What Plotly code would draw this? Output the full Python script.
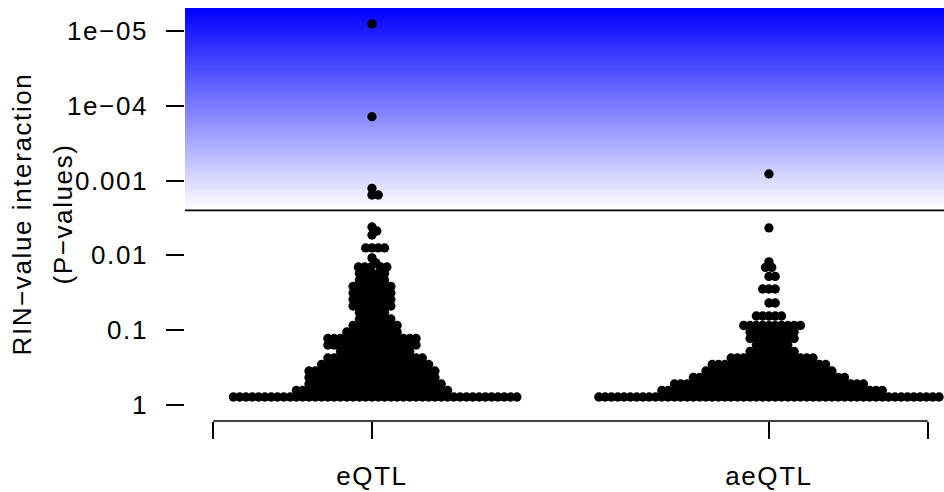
import numpy as np
import plotly.graph_objects as go

# ---------------- data ----------------
GROUPS = ["eQTL", "aeQTL"]
GROUP_POS = [1, 2]

# eQTL: p-value levels and number of points found at each level
EQTL_P = [8.06e-6, 1.40e-4, 1.27e-3, 1.56e-3, 4.17e-3, 4.72e-3, 5.34e-3, 7.96e-3, 1.08e-2, 1.26e-2,
          0.01429, 0.01746, 0.0213, 0.0260, 0.0318, 0.0389, 0.0475, 0.0580, 0.0709, 0.0866,
          0.1057, 0.1291, 0.1577, 0.1926, 0.2353, 0.2874, 0.3511, 0.4289, 0.5239, 0.6401, 0.7817]
EQTL_N = [1, 1, 1, 2, 1, 1, 1, 4, 1, 1,
          5, 5, 5, 7, 7, 7, 7, 5, 6, 8,
          9, 15, 15, 12, 16, 18, 21, 21, 22, 25, 46]

# aeQTL: p-value levels and number of points at each level
AEQTL_P = [8.16e-4, 4.30e-3, 1.22e-2, 1.451e-2, 1.914e-2, 2.813e-2, 4.329e-2, 6.46e-2, 0.0866,
           0.1057, 0.1291, 0.1577, 0.1926, 0.2353, 0.2874, 0.3511, 0.4289, 0.5239, 0.6401, 0.7817]
AEQTL_N = [1, 1, 1, 2, 2, 3, 2, 5, 10,
           8, 8, 6, 8, 14, 19, 21, 25, 31, 36, 55]

THRESHOLD = 0.0025
Y_TICKS = [1e-5, 1e-4, 1e-3, 1e-2, 0.1, 1]
Y_TICK_TEXT = ["1e\u221205", "1e\u221204", "0.001", "0.01", "0.1", "1"]
X_TICKS = [0.6, 1, 2, 2.4]
X_TICK_TEXT = ["", "eQTL", "aeQTL", ""]
Y_TITLE_1 = "RIN\u2212value interaction"
Y_TITLE_2 = "(P\u2212values)"

# ---------------- layout geometry ----------------
W, H = 944, 492
M_L, M_R, M_T, M_B = 185, 0, 8, 71
PLOT_W = W - M_L - M_R
PLOT_H = H - M_T - M_B
X_RANGE = [0.529, 2.441]
Y_RANGE_LOG = [0.214, -5.307]  # reversed log axis (1 at bottom)

PX_PER_X = PLOT_W / (X_RANGE[1] - X_RANGE[0])
PX_PER_DEC = PLOT_H / (Y_RANGE_LOG[0] - Y_RANGE_LOG[1])

DOT = 9.3       # marker diameter (px)
SPACING = 6.3   # swarm collision distance (px)

FONT = "Liberation Sans, Arial, Helvetica, sans-serif"
FS = 26
LS = "1.6px"


def sp(t):
    return '<span style="letter-spacing:%s">%s</span>' % (LS, t) if t else t


def swarm_offsets(ypx, d):
    """beeswarm 'swarm' placement: each point as close to centre as possible."""
    n = len(ypx)
    order = np.argsort(ypx, kind="stable")
    xs = np.zeros(n)
    px = np.empty(0)
    py = np.empty(0)
    for i in order:
        y = ypx[i]
        m = np.abs(py - y) < d
        nx, ny = px[m], py[m]
        if nx.size == 0:
            x = 0.0
        else:
            h = np.sqrt(d * d - (ny - y) ** 2)
            cand = np.concatenate(([0.0], nx + h, nx - h))
            dist2 = (cand[:, None] - nx[None, :]) ** 2 + (y - ny[None, :]) ** 2
            ok = np.all(dist2 >= d * d - 1e-6, axis=1)
            cand = cand[ok]
            key = np.round(np.abs(cand), 6) - 1e-9 * (cand > 0)
            x = cand[np.argmin(key)]
        xs[i] = x
        px = np.append(px, x)
        py = np.append(py, y)
    return xs


def expand(pvals, counts):
    return np.repeat(np.asarray(pvals, dtype=float), counts)


fig = go.Figure()

# gradient band above the threshold (white -> blue)
n_band = 160
edges = np.logspace(np.log10(THRESHOLD), Y_RANGE_LOG[1], n_band + 1)
fig.add_trace(go.Heatmap(
    x=X_RANGE, y=edges, z=np.arange(n_band).reshape(n_band, 1),
    colorscale=[[0, "#ffffff"], [1, "#0000ff"]], showscale=False,
    hoverinfo="skip", zsmooth=False))

# threshold line
fig.add_trace(go.Scatter(x=X_RANGE, y=[THRESHOLD, THRESHOLD], mode="lines",
                         line=dict(color="black", width=1.6), hoverinfo="skip",
                         showlegend=False))

# swarms
for pos, pv, cn in [(GROUP_POS[0], EQTL_P, EQTL_N), (GROUP_POS[1], AEQTL_P, AEQTL_N)]:
    p = expand(pv, cn)
    ypx = (np.log10(p) - Y_RANGE_LOG[1]) * PX_PER_DEC
    off = swarm_offsets(ypx, SPACING)
    fig.add_trace(go.Scatter(
        x=pos + off / PX_PER_X, y=p, mode="markers",
        marker=dict(color="black", size=DOT, line=dict(width=0)),
        showlegend=False, hoverinfo="skip"))

axis_font = dict(family=FONT, size=FS, color="black")

annotations = [
    dict(text=sp(Y_TITLE_1), xref="paper", yref="paper", x=-(M_L - 21) / PLOT_W, y=0.5,
         textangle=-90, showarrow=False, xanchor="center", yanchor="middle",
         font=axis_font),
    dict(text=sp(Y_TITLE_2), xref="paper", yref="paper", x=-(M_L - 62) / PLOT_W, y=0.5,
         textangle=-90, showarrow=False, xanchor="center", yanchor="middle",
         font=axis_font),
]
# y tick labels (placed on the log axis through the axis scale)
for v, t in zip(Y_TICKS, Y_TICK_TEXT):
    annotations.append(dict(text=sp(t), xref="paper", yref="y", x=-(M_L - 150) / PLOT_W,
                            y=np.log10(v), xanchor="right", yanchor="middle",
                            showarrow=False, font=axis_font))

fig.update_layout(
    width=W, height=H,
    margin=dict(l=M_L, r=M_R, t=M_T, b=M_B, pad=0),
    paper_bgcolor="white", plot_bgcolor="white",
    showlegend=False,
    xaxis=dict(range=X_RANGE, tickmode="array", tickvals=X_TICKS,
               ticktext=[sp(t) for t in X_TICK_TEXT],
               ticks="outside", ticklen=17, tickwidth=1.5, tickcolor="black",
               showline=False, showgrid=False, zeroline=False,
               tickfont=axis_font, ticklabelstandoff=15, fixedrange=True),
    yaxis=dict(type="log", range=Y_RANGE_LOG, tickmode="array", tickvals=Y_TICKS,
               showticklabels=False,
               ticks="outside", ticklen=18, tickwidth=1.5, tickcolor="black",
               showline=False, showgrid=False, zeroline=False, fixedrange=True),
    shapes=[
        dict(type="line", xref="x", yref="paper", x0=X_TICKS[0], x1=X_TICKS[-1],
             y0=0, y1=0, line=dict(color="black", width=1.5)),
        dict(type="line", xref="paper", yref="y", x0=0, x1=0,
             y0=np.log10(Y_TICKS[0]), y1=np.log10(Y_TICKS[-1]),
             line=dict(color="black", width=1.5)),
    ],
    annotations=annotations,
)

fig.write_html("out.html", config={"displayModeBar": False},
               post_script="document.body.style.margin='0';"
                           "document.documentElement.style.margin='0';")
